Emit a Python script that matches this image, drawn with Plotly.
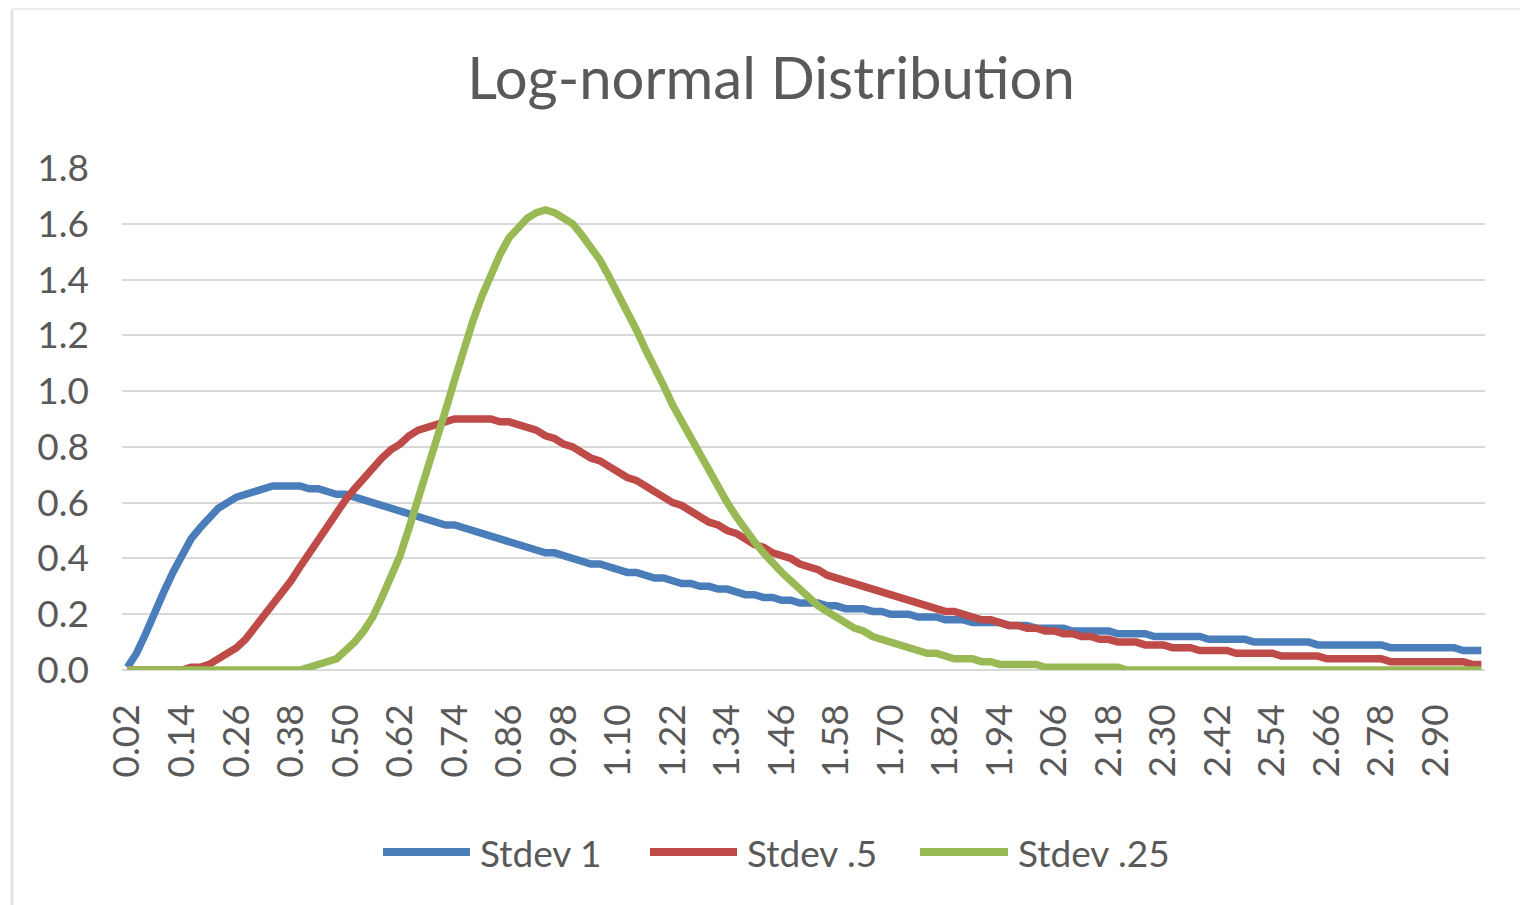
import plotly.graph_objects as go

categories = [
    "0.02", "0.04", "0.06", "0.08", "0.10", "0.12", "0.14", "0.16", "0.18", "0.20",
    "0.22", "0.24", "0.26", "0.28", "0.30", "0.32", "0.34", "0.36", "0.38", "0.40",
    "0.42", "0.44", "0.46", "0.48", "0.50", "0.52", "0.54", "0.56", "0.58", "0.60",
    "0.62", "0.64", "0.66", "0.68", "0.70", "0.72", "0.74", "0.76", "0.78", "0.80",
    "0.82", "0.84", "0.86", "0.88", "0.90", "0.92", "0.94", "0.96", "0.98", "1.00",
    "1.02", "1.04", "1.06", "1.08", "1.10", "1.12", "1.14", "1.16", "1.18", "1.20",
    "1.22", "1.24", "1.26", "1.28", "1.30", "1.32", "1.34", "1.36", "1.38", "1.40",
    "1.42", "1.44", "1.46", "1.48", "1.50", "1.52", "1.54", "1.56", "1.58", "1.60",
    "1.62", "1.64", "1.66", "1.68", "1.70", "1.72", "1.74", "1.76", "1.78", "1.80",
    "1.82", "1.84", "1.86", "1.88", "1.90", "1.92", "1.94", "1.96", "1.98", "2.00",
    "2.02", "2.04", "2.06", "2.08", "2.10", "2.12", "2.14", "2.16", "2.18", "2.20",
    "2.22", "2.24", "2.26", "2.28", "2.30", "2.32", "2.34", "2.36", "2.38", "2.40",
    "2.42", "2.44", "2.46", "2.48", "2.50", "2.52", "2.54", "2.56", "2.58", "2.60",
    "2.62", "2.64", "2.66", "2.68", "2.70", "2.72", "2.74", "2.76", "2.78", "2.80",
    "2.82", "2.84", "2.86", "2.88", "2.90", "2.92", "2.94", "2.96", "2.98", "3.00",
]

x_tick_labels = [
    "0.02", "0.14", "0.26", "0.38", "0.50", "0.62", "0.74", "0.86", "0.98", "1.10",
    "1.22", "1.34", "1.46", "1.58", "1.70", "1.82", "1.94", "2.06", "2.18", "2.30",
    "2.42", "2.54", "2.66", "2.78", "2.90",
]

y_tick_values = [0.0, 0.2, 0.4, 0.6, 0.8, 1.0, 1.2, 1.4, 1.6, 1.8]

stdev_1 = [
    0.01, 0.06, 0.13, 0.21, 0.28, 0.35, 0.41, 0.47, 0.51, 0.55,
    0.58, 0.60, 0.62, 0.63, 0.64, 0.65, 0.66, 0.66, 0.66, 0.66,
    0.65, 0.65, 0.64, 0.63, 0.63, 0.62, 0.61, 0.60, 0.59, 0.58,
    0.57, 0.56, 0.55, 0.54, 0.53, 0.52, 0.52, 0.51, 0.50, 0.49,
    0.48, 0.47, 0.46, 0.45, 0.44, 0.43, 0.42, 0.42, 0.41, 0.40,
    0.39, 0.38, 0.38, 0.37, 0.36, 0.35, 0.35, 0.34, 0.33, 0.33,
    0.32, 0.31, 0.31, 0.30, 0.30, 0.29, 0.29, 0.28, 0.27, 0.27,
    0.26, 0.26, 0.25, 0.25, 0.24, 0.24, 0.24, 0.23, 0.23, 0.22,
    0.22, 0.22, 0.21, 0.21, 0.20, 0.20, 0.20, 0.19, 0.19, 0.19,
    0.18, 0.18, 0.18, 0.17, 0.17, 0.17, 0.17, 0.16, 0.16, 0.16,
    0.15, 0.15, 0.15, 0.15, 0.14, 0.14, 0.14, 0.14, 0.14, 0.13,
    0.13, 0.13, 0.13, 0.12, 0.12, 0.12, 0.12, 0.12, 0.12, 0.11,
    0.11, 0.11, 0.11, 0.11, 0.10, 0.10, 0.10, 0.10, 0.10, 0.10,
    0.10, 0.09, 0.09, 0.09, 0.09, 0.09, 0.09, 0.09, 0.09, 0.08,
    0.08, 0.08, 0.08, 0.08, 0.08, 0.08, 0.08, 0.07, 0.07, 0.07,
]

stdev_05 = [
    0.00, 0.00, 0.00, 0.00, 0.00, 0.00, 0.00, 0.01, 0.01, 0.02,
    0.04, 0.06, 0.08, 0.11, 0.15, 0.19, 0.23, 0.27, 0.32, 0.37,
    0.42, 0.47, 0.52, 0.57, 0.61, 0.65, 0.69, 0.73, 0.76, 0.79,
    0.81, 0.84, 0.86, 0.87, 0.88, 0.89, 0.90, 0.90, 0.90, 0.90,
    0.90, 0.89, 0.89, 0.88, 0.87, 0.86, 0.84, 0.83, 0.81, 0.80,
    0.78, 0.76, 0.75, 0.73, 0.71, 0.69, 0.68, 0.66, 0.64, 0.62,
    0.60, 0.59, 0.57, 0.55, 0.53, 0.52, 0.50, 0.49, 0.47, 0.45,
    0.44, 0.42, 0.41, 0.40, 0.38, 0.37, 0.36, 0.34, 0.33, 0.32,
    0.31, 0.30, 0.29, 0.28, 0.27, 0.26, 0.25, 0.24, 0.23, 0.22,
    0.21, 0.21, 0.20, 0.19, 0.18, 0.18, 0.17, 0.16, 0.16, 0.15,
    0.15, 0.14, 0.14, 0.13, 0.13, 0.12, 0.12, 0.11, 0.11, 0.10,
    0.10, 0.10, 0.09, 0.09, 0.09, 0.08, 0.08, 0.08, 0.07, 0.07,
    0.07, 0.07, 0.06, 0.06, 0.06, 0.06, 0.06, 0.05, 0.05, 0.05,
    0.05, 0.05, 0.04, 0.04, 0.04, 0.04, 0.04, 0.04, 0.04, 0.03,
    0.03, 0.03, 0.03, 0.03, 0.03, 0.03, 0.03, 0.03, 0.02, 0.02,
]

stdev_025 = [
    0.00, 0.00, 0.00, 0.00, 0.00, 0.00, 0.00, 0.00, 0.00, 0.00,
    0.00, 0.00, 0.00, 0.00, 0.00, 0.00, 0.00, 0.00, 0.00, 0.00,
    0.01, 0.02, 0.03, 0.04, 0.07, 0.10, 0.14, 0.19, 0.26, 0.33,
    0.41, 0.51, 0.61, 0.71, 0.82, 0.93, 1.04, 1.15, 1.25, 1.34,
    1.42, 1.49, 1.55, 1.59, 1.62, 1.64, 1.65, 1.64, 1.62, 1.60,
    1.56, 1.52, 1.47, 1.41, 1.35, 1.29, 1.22, 1.15, 1.09, 1.02,
    0.95, 0.89, 0.83, 0.77, 0.71, 0.65, 0.60, 0.55, 0.50, 0.46,
    0.42, 0.38, 0.35, 0.32, 0.29, 0.26, 0.23, 0.21, 0.19, 0.17,
    0.15, 0.14, 0.12, 0.11, 0.10, 0.09, 0.08, 0.07, 0.06, 0.06,
    0.05, 0.04, 0.04, 0.04, 0.03, 0.03, 0.02, 0.02, 0.02, 0.02,
    0.02, 0.01, 0.01, 0.01, 0.01, 0.01, 0.01, 0.01, 0.01, 0.01,
    0.00, 0.00, 0.00, 0.00, 0.00, 0.00, 0.00, 0.00, 0.00, 0.00,
    0.00, 0.00, 0.00, 0.00, 0.00, 0.00, 0.00, 0.00, 0.00, 0.00,
    0.00, 0.00, 0.00, 0.00, 0.00, 0.00, 0.00, 0.00, 0.00, 0.00,
    0.00, 0.00, 0.00, 0.00, 0.00, 0.00, 0.00, 0.00, 0.00, 0.00,
]

series_names = ["Stdev 1", "Stdev .5", "Stdev .25"]
series_colors = ["#4A7EBB", "#BE4B48", "#98B954"]
series_values = [stdev_1, stdev_05, stdev_025]

FONT = "Lato, 'Open Sans', sans-serif"
TEXT_COLOR = "#595959"
GRID_COLOR = "#D9D9D9"

W, H = 1520, 905
ML, MR, MT, MB = 122, 35, 168, 235
PW, PH = W - ML - MR, H - MT - MB


def px_x(px):
    return (px - ML) / PW


def px_y(py):
    return (H - MB - py) / PH


fig = go.Figure()
for name, color, values in zip(series_names, series_colors, series_values):
    fig.add_trace(go.Scatter(
        x=categories, y=values, mode="lines", name=name,
        line=dict(color=color, width=7.5),
        showlegend=False,
    ))

fig.update_layout(
    width=W, height=H,
    paper_bgcolor="white", plot_bgcolor="white",
    margin=dict(l=ML, r=MR, t=MT, b=MB),
    font=dict(family=FONT, color=TEXT_COLOR, size=37),
    title=dict(
        text="Log-normal Distribution",
        x=771 / W, xref="container", xanchor="center",
        y=1 - 79 / H, yref="container", yanchor="middle",
        font=dict(family=FONT, size=58, color=TEXT_COLOR),
    ),
    showlegend=False,
)

fig.update_xaxes(
    type="category",
    categoryorder="array", categoryarray=categories,
    range=[-0.6, len(categories) - 0.6],
    tickmode="array", tickvals=x_tick_labels, ticktext=x_tick_labels,
    tickangle=-90,
    showgrid=False, zeroline=False, showline=False,
    ticks="", ticklabelstandoff=26,
    tickfont=dict(family=FONT, size=37, color=TEXT_COLOR),
)
fig.update_yaxes(
    range=[0, 1.8],
    tickmode="array", tickvals=y_tick_values,
    tickformat=".1f",
    showgrid=True, gridcolor=GRID_COLOR, gridwidth=2,
    zeroline=True, zerolinecolor=GRID_COLOR, zerolinewidth=2,
    showline=False, ticks="", ticklabelstandoff=32,
    tickfont=dict(family=FONT, size=37, color=TEXT_COLOR),
)

# legend drawn below the plot: long line swatch followed by the series name
legend_y = 852
legend_swatches = [(383, 470), (650, 737), (920, 1008)]
for (x0, x1), name, color in zip(legend_swatches, series_names, series_colors):
    fig.add_shape(type="line", xref="paper", yref="paper",
                  x0=px_x(x0), x1=px_x(x1), y0=px_y(legend_y), y1=px_y(legend_y),
                  line=dict(color=color, width=8))
    fig.add_annotation(text=name, xref="paper", yref="paper",
                       x=px_x(x1 + 8), y=px_y(legend_y),
                       xanchor="left", yanchor="middle", showarrow=False,
                       font=dict(family=FONT, size=37, color=TEXT_COLOR))

# faint chart-area frame at left and top, as in the reference screenshot
fig.add_shape(type="line", xref="paper", yref="paper",
              x0=px_x(12), x1=px_x(12), y0=px_y(H), y1=px_y(9),
              line=dict(color="#E3E3E3", width=3))
fig.add_shape(type="line", xref="paper", yref="paper",
              x0=px_x(12), x1=px_x(W), y0=px_y(9), y1=px_y(9),
              line=dict(color="#EDEDED", width=2))

fig.write_html("out.html")
